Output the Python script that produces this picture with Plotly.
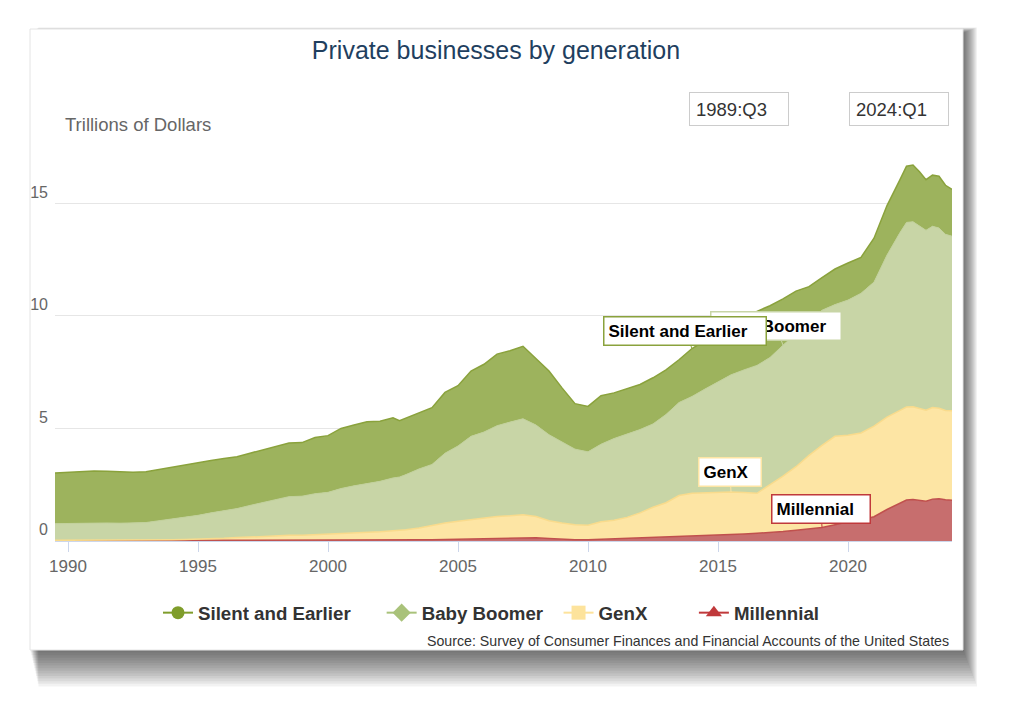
import plotly.graph_objects as go

# ---------------- data (trillions of dollars, per generation) ----------------
years = [1989.5, 1990.0, 1990.5, 1991.0, 1991.5, 1992.0, 1992.5, 1993.0, 1993.5, 1994.0,
         1994.5, 1995.0, 1995.5, 1996.0, 1996.5, 1997.0, 1997.5, 1998.0, 1998.5, 1999.0,
         1999.5, 2000.0, 2000.5, 2001.0, 2001.5, 2002.0, 2002.5, 2002.75, 2003.0, 2003.5,
         2004.0, 2004.5, 2005.0, 2005.5, 2006.0, 2006.5, 2007.0, 2007.5, 2008.0, 2008.5,
         2009.0, 2009.5, 2010.0, 2010.5, 2011.0, 2011.5, 2012.0, 2012.5, 2013.0, 2013.5,
         2014.0, 2014.5, 2015.0, 2015.5, 2016.0, 2016.5, 2017.0, 2017.5, 2018.0, 2018.5,
         2019.0, 2019.5, 2020.0, 2020.5, 2021.0, 2021.5, 2022.0, 2022.25, 2022.5, 2022.75,
         2023.0, 2023.25, 2023.5, 2023.75, 2024.0]

millennial = [0.02, 0.02, 0.02, 0.02, 0.02, 0.02, 0.02, 0.02, 0.02, 0.02,
              0.02, 0.02, 0.02, 0.02, 0.02, 0.02, 0.02, 0.02, 0.02, 0.02,
              0.02, 0.03, 0.03, 0.03, 0.03, 0.04, 0.04, 0.04, 0.05, 0.05,
              0.06, 0.07, 0.09, 0.10, 0.12, 0.14, 0.15, 0.16, 0.14, 0.11,
              0.08, 0.06, 0.06, 0.08, 0.09, 0.10, 0.12, 0.14, 0.16, 0.18,
              0.20, 0.22, 0.25, 0.28, 0.31, 0.34, 0.37, 0.42, 0.48, 0.55,
              0.60, 0.72, 0.85, 0.93, 1.08, 1.40, 1.70, 1.82, 1.84, 1.80,
              1.77, 1.86, 1.88, 1.83, 1.81]

genx = [0.01, 0.01, 0.01, 0.01, 0.01, 0.01, 0.01, 0.02, 0.03, 0.04,
        0.05, 0.06, 0.08, 0.10, 0.13, 0.16, 0.19, 0.22, 0.23, 0.24,
        0.26, 0.27, 0.30, 0.33, 0.35, 0.37, 0.41, 0.43, 0.45, 0.53,
        0.64, 0.73, 0.79, 0.86, 0.90, 0.95, 0.97, 1.01, 0.95, 0.79,
        0.72, 0.66, 0.64, 0.77, 0.83, 0.95, 1.13, 1.36, 1.54, 1.84,
        1.92, 1.93, 1.91, 1.90, 1.84, 1.78, 2.13, 2.46, 2.82, 3.25,
        3.65, 3.93, 3.85, 3.87, 4.02, 4.10, 4.10, 4.13, 4.12, 4.10,
        4.04, 4.07, 4.02, 3.97, 3.97]

baby_boomer = [0.74, 0.75, 0.77, 0.77, 0.77, 0.76, 0.76, 0.78, 0.85, 0.92,
               0.98, 1.06, 1.15, 1.23, 1.29, 1.40, 1.51, 1.62, 1.72, 1.73,
               1.82, 1.86, 2.00, 2.09, 2.17, 2.24, 2.35, 2.37, 2.45, 2.62,
               2.70, 3.10, 3.34, 3.69, 3.82, 4.03, 4.16, 4.26, 4.06, 3.82,
               3.60, 3.36, 3.26, 3.45, 3.63, 3.70, 3.70, 3.70, 3.92, 4.13,
               4.30, 4.60, 4.92, 5.20, 5.45, 5.68, 5.65, 5.82, 5.90, 5.95,
               6.00, 5.85, 6.00, 6.20, 6.40, 7.20, 7.90, 8.20, 8.22, 8.10,
               7.99, 8.05, 8.00, 7.82, 7.76]

silent = [2.25, 2.27, 2.30, 2.31, 2.30, 2.28, 2.26, 2.26, 2.28, 2.32,
          2.35, 2.34, 2.33, 2.31, 2.30, 2.32, 2.34, 2.36, 2.38, 2.38,
          2.50, 2.52, 2.67, 2.70, 2.75, 2.67, 2.67, 2.50, 2.50, 2.50,
          2.52, 2.70, 2.68, 2.90, 3.01, 3.18, 3.17, 3.22, 2.95, 2.83,
          2.40, 2.02, 2.02, 2.15, 2.03, 2.00, 2.00, 2.05, 1.98, 1.90,
          2.13, 2.15, 2.17, 2.22, 2.30, 2.40, 2.30, 2.05, 1.90, 1.55,
          1.45, 1.58, 1.65, 1.60, 1.95, 2.20, 2.35, 2.50, 2.52, 2.40,
          2.25, 2.27, 2.30, 2.18, 2.08]

series_names = ["Silent and Earlier", "Baby Boomer", "GenX", "Millennial"]
x_ticks = [1990, 1995, 2000, 2005, 2010, 2015, 2020]
y_ticks = [0, 5, 10, 15]
range_from = "1989:Q3"
range_to = "2024:Q1"

# ---------------- styling ----------------
FONT = "Liberation Sans, Arial, sans-serif"
OFF = 8                      # page margin of the browser around the figure
W, H = 1024 - 2 * OFF, 709 - 2 * OFF
PLOT_L, PLOT_R, PLOT_T, PLOT_B = 55, 952, 147, 541   # in reference page pixels
L = PLOT_L - OFF
T = PLOT_T - OFF
R = W - (PLOT_R - OFF)
B = H - (PLOT_B - OFF)
PW, PH = W - L - R, H - T - B


def pxx(px):
    return (px - PLOT_L) / PW


def pxy(py):
    return (PLOT_B - py) / PH


fill_cols = {"Silent and Earlier": "#9db35d", "Baby Boomer": "#c8d5a6",
             "GenX": "#fde5a4", "Millennial": "#c76e6e"}
line_cols = {"Silent and Earlier": "#8aa23c", "Baby Boomer": "#c2d19c",
             "GenX": "#f9db8c", "Millennial": "#c0504d"}
marker_cols = {"Silent and Earlier": "#7f9d2b", "Baby Boomer": "#a9c27a",
               "GenX": "#fde39c", "Millennial": "#c0393b"}
symbols = {"Silent and Earlier": "circle", "Baby Boomer": "diamond",
           "GenX": "square", "Millennial": "triangle-up"}
msizes = {"Silent and Earlier": 13, "Baby Boomer": 14, "GenX": 14, "Millennial": 14}
label_border = {"Silent and Earlier": "#8aa23c", "Baby Boomer": "#c8d5a6",
                "GenX": "#fde5a4", "Millennial": "#c0393b"}
label_width = {"Silent and Earlier": 153, "Baby Boomer": 121, "GenX": 53, "Millennial": 89}
legend_pad = {"Silent and Earlier": 5, "Baby Boomer": 2, "GenX": 8, "Millennial": 0}

values = {"Silent and Earlier": silent, "Baby Boomer": baby_boomer,
          "GenX": genx, "Millennial": millennial}

fig = go.Figure()

# stacked areas, bottom first
for name in ["Millennial", "GenX", "Baby Boomer", "Silent and Earlier"]:
    fig.add_trace(go.Scatter(
        x=years, y=values[name], name=name, mode="lines",
        stackgroup="one", fillcolor=fill_cols[name],
        line=dict(color=line_cols[name], width=1.5 if name != "Baby Boomer" else 1),
        showlegend=False, hoverinfo="skip"))

# legend entries
for name in series_names:
    fig.add_trace(go.Scatter(
        x=[None], y=[None], name="<b>%s</b>%s" % (name, "\u00a0" * legend_pad[name]),
        mode="lines+markers",
        line=dict(color=marker_cols[name], width=2),
        marker=dict(symbol=symbols[name], size=msizes[name], color=marker_cols[name]),
        showlegend=True))

# cumulative tops for label anchoring
cum = {}
running = [0.0] * len(years)
for name in ["Millennial", "GenX", "Baby Boomer", "Silent and Earlier"]:
    running = [a + b for a, b in zip(running, values[name])]
    cum[name] = list(running)

label_specs = [("Baby Boomer", 2017.5, -7, -19),
               ("Silent and Earlier", 2014.0, -7, -17.5),
               ("GenX", 2015.5, -1, -19.5),
               ("Millennial", 2019.0, -1, -18.5)]
annotations = []
for name, yr, ax, ay in label_specs:
    i = years.index(yr)
    annotations.append(dict(
        x=yr, y=cum[name][i], xref="x", yref="y", text="<b>%s</b>" % name,
        showarrow=True, arrowhead=0, arrowwidth=1, arrowcolor=label_border[name],
        ax=ax, ay=ay, standoff=0, startstandoff=0, width=label_width[name],
        bgcolor="white", bordercolor=label_border[name], borderwidth=1.5, borderpad=4,
        font=dict(family=FONT, size=17, color="#000000"), align="left"))

# axis title & range inputs & source
annotations.append(dict(x=pxx(63), y=pxy(124), xref="paper", yref="paper",
                        xanchor="left", yanchor="middle", showarrow=False,
                        text="Trillions of Dollars",
                        font=dict(family=FONT, size=18.5, color="#666666")))
for txt, cx in [(range_from, 738.5), (range_to, 899)]:
    annotations.append(dict(x=pxx(cx), y=pxy(108.5), xref="paper", yref="paper",
                            xanchor="center", yanchor="middle", showarrow=False,
                            text=txt, width=86, height=20, align="left",
                            bordercolor="#cccccc", borderwidth=1, borderpad=6,
                            bgcolor="white",
                            font=dict(family=FONT, size=18.5, color="#333333")))
annotations.append(dict(x=pxx(951), y=pxy(641), xref="paper", yref="paper",
                        xanchor="right", yanchor="middle", showarrow=False,
                        text="Source: Survey of Consumer Finances and Financial Accounts of the United States",
                        font=dict(family=FONT, size=14.2, color="#333333")))

# card with drop shadow
shapes = []
for k in range(1, 15):
    shapes.append(dict(type="rect", xref="paper", yref="paper", layer="below",
                       x0=pxx(30 + k * 0.6), x1=pxx(963 + k * 1.0),
                       y0=pxy(650 + k * 2.6), y1=pxy(33 - k * 0.4),
                       line=dict(width=0), fillcolor="rgba(0,0,0,0.05)"))
shapes.append(dict(type="rect", xref="paper", yref="paper", layer="below",
                   x0=pxx(30), x1=pxx(963), y0=pxy(650), y1=pxy(29),
                   line=dict(width=1, color="#e4e4e4"), fillcolor="white"))

fig.update_layout(
    width=W, height=H,
    margin=dict(l=L, r=R, t=T, b=B, pad=0),
    paper_bgcolor="white", plot_bgcolor="rgba(0,0,0,0)",
    font=dict(family=FONT, color="#666666"),
    title=dict(text="Private businesses by generation", x=pxx(496), xref="paper",
               xanchor="center", y=1 - (50 - OFF) / H, yanchor="middle",
               font=dict(family=FONT, size=25, color="#1f3f5f")),
    xaxis=dict(range=[1989.5, 2024.0], tickvals=x_ticks, showgrid=False,
               showline=True, linecolor="#ccd6eb", linewidth=1,
               ticks="outside", ticklen=10, tickcolor="#ccd6eb",
               tickfont=dict(family=FONT, size=17, color="#666666"),
               zeroline=False, fixedrange=True),
    yaxis=dict(range=[0, 17.5], tickvals=y_ticks, showgrid=True, gridcolor="#e6e6e6",
               gridwidth=1, zeroline=False, showline=False, ticks="",
               ticklabelposition="outside top", ticklabelstandoff=6,
               tickfont=dict(family=FONT, size=16, color="#666666"), fixedrange=True),
    legend=dict(orientation="h", x=pxx(158), xanchor="left", y=pxy(613),
                yanchor="middle", font=dict(family=FONT, size=18.7, color="#333333"),
                bgcolor="rgba(0,0,0,0)", traceorder="normal", tracegroupgap=0),
    annotations=annotations,
    shapes=shapes,
    showlegend=True,
)

fig.write_html("out.html")
